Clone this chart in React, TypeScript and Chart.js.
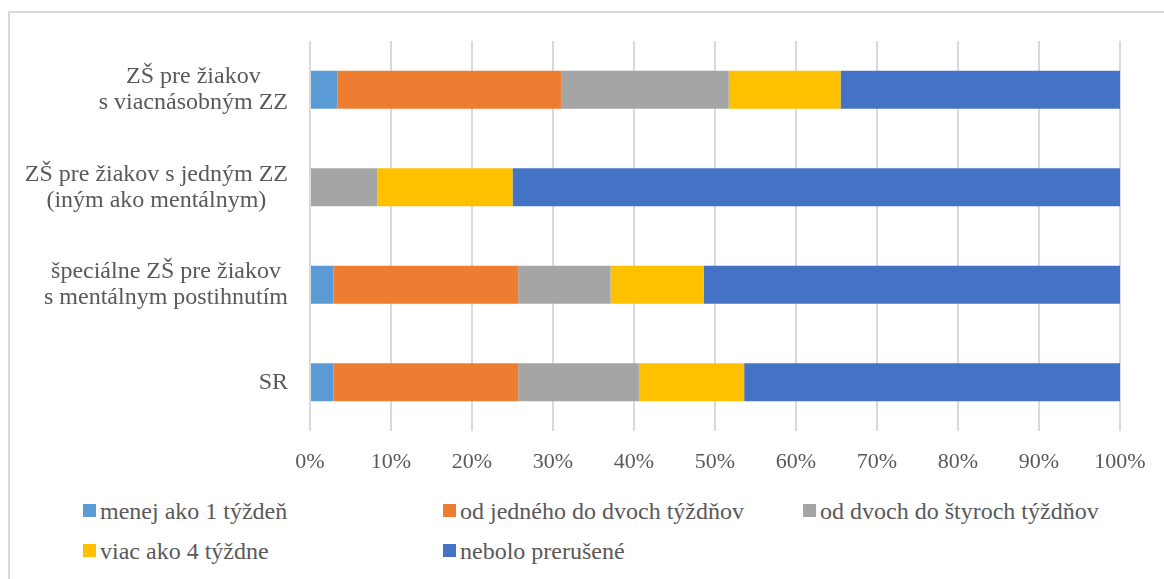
import React, { useEffect, useRef } from "react";
import { Chart, registerables } from "chart.js";

Chart.register(...registerables);

const categories: string[][] = [
  ["ZŠ pre žiakov", "s viacnásobným ZZ"],
  ["ZŠ pre žiakov s jedným ZZ", "(iným ako mentálnym)"],
  ["špeciálne ZŠ pre žiakov", "s mentálnym postihnutím"],
  ["SR"],
];

const seriesNames = [
  "menej ako 1 týždeň",
  "od jedného do dvoch týždňov",
  "od dvoch do štyroch týždňov",
  "viac ako 4 týždne",
  "nebolo prerušené",
];

const seriesColors = ["#5B9BD5", "#ED7D31", "#A5A5A5", "#FFC000", "#4472C4"];

const menejAko1 = [3.4, 0, 2.9, 2.9];
const od1do2 = [27.6, 0, 22.8, 22.8];
const od2do4 = [20.7, 8.3, 11.4, 14.9];
const viacAko4 = [13.8, 16.7, 11.5, 13.0];
const neboloPrerusene = [34.5, 75.0, 51.4, 46.4];

const seriesValues = [menejAko1, od1do2, od2do4, viacAko4, neboloPrerusene];

const FONT = "Liberation Serif";
const TEXT = "#595959";

const yLabelPlugin = {
  id: "yLabelPlugin",
  afterDraw(chart: any) {
    const ctx = chart.ctx;
    const yScale = chart.scales.y;
    ctx.save();
    ctx.font = `24px "${FONT}"`;
    ctx.fillStyle = TEXT;
    ctx.textAlign = "center";
    ctx.textBaseline = "middle";
    const rightEdge = 288;
    const lh = 26;
    categories.forEach((lines, i) => {
      const yc = yScale.getPixelForTick(i);
      const maxW = Math.max(...lines.map((l) => ctx.measureText(l).width));
      const xc = rightEdge - maxW / 2;
      const y0 = yc - ((lines.length - 1) * lh) / 2;
      lines.forEach((l, j) => ctx.fillText(l, xc, y0 + j * lh));
    });
    ctx.restore();
  },
};

export default function App() {
  const ref = useRef<HTMLCanvasElement>(null);

  useEffect(() => {
    document.body.style.margin = "0";
    document.body.style.overflow = "hidden";
    const chart = new Chart(ref.current!, {
      type: "bar",
      data: {
        labels: categories.map((c) => c.join(" ")),
        datasets: seriesNames.map((name, i) => ({
          label: name,
          data: seriesValues[i],
          backgroundColor: seriesColors[i],
          borderWidth: 0,
          barPercentage: 0.39,
          categoryPercentage: 1,
        })),
      },
      options: {
        indexAxis: "y",
        animation: false,
        responsive: false,
        maintainAspectRatio: false,
        layout: { padding: { top: 41, right: 44, left: 0, bottom: 0 } },
        plugins: { legend: { display: false }, tooltip: { enabled: false } },
        scales: {
          x: {
            stacked: true,
            min: 0,
            max: 100,
            ticks: {
              stepSize: 10,
              callback: (v: any) => `${v}%`,
              font: { family: FONT, size: 22 },
              color: TEXT,
              padding: 18,
              maxRotation: 0,
            },
            grid: { color: "#D9D9D9", lineWidth: 2, drawTicks: false },
            border: { display: false },
            afterFit: (s: any) => {
              s.height = 49;
            },
          },
          y: {
            stacked: true,
            ticks: { display: false },
            grid: { display: false, drawTicks: false },
            border: { display: false },
            afterFit: (s: any) => {
              s.width = 310;
            },
          },
        },
      },
      plugins: [yLabelPlugin],
    });
    return () => chart.destroy();
  }, []);

  const legendCols = [83, 443, 803];
  const legendRows = [504, 544];

  return (
    <div style={{ position: "relative", width: 1164, height: 579, overflow: "hidden", background: "#fff", fontFamily: FONT }}>
      <div
        style={{
          position: "absolute",
          left: 8,
          top: 11,
          width: 1200,
          height: 620,
          border: "2px solid #D9D9D9",
          boxSizing: "border-box",
        }}
      />
      <canvas ref={ref} width={1164} height={480} style={{ position: "absolute", left: 0, top: 0 }} />
      {seriesNames.map((name, i) => {
        const col = i % 3;
        const row = Math.floor(i / 3);
        return (
          <div key={name} style={{ position: "absolute", left: legendCols[col], top: legendRows[row] }}>
            <div
              style={{
                position: "absolute",
                left: 0,
                top: 0,
                width: 13,
                height: 13,
                background: seriesColors[i],
              }}
            />
            <div
              style={{
                position: "absolute",
                left: 17,
                top: -3,
                fontFamily: FONT,
                fontSize: 24,
                lineHeight: "20px",
                color: TEXT,
                whiteSpace: "nowrap",
              }}
            >
              {name}
            </div>
          </div>
        );
      })}
    </div>
  );
}
